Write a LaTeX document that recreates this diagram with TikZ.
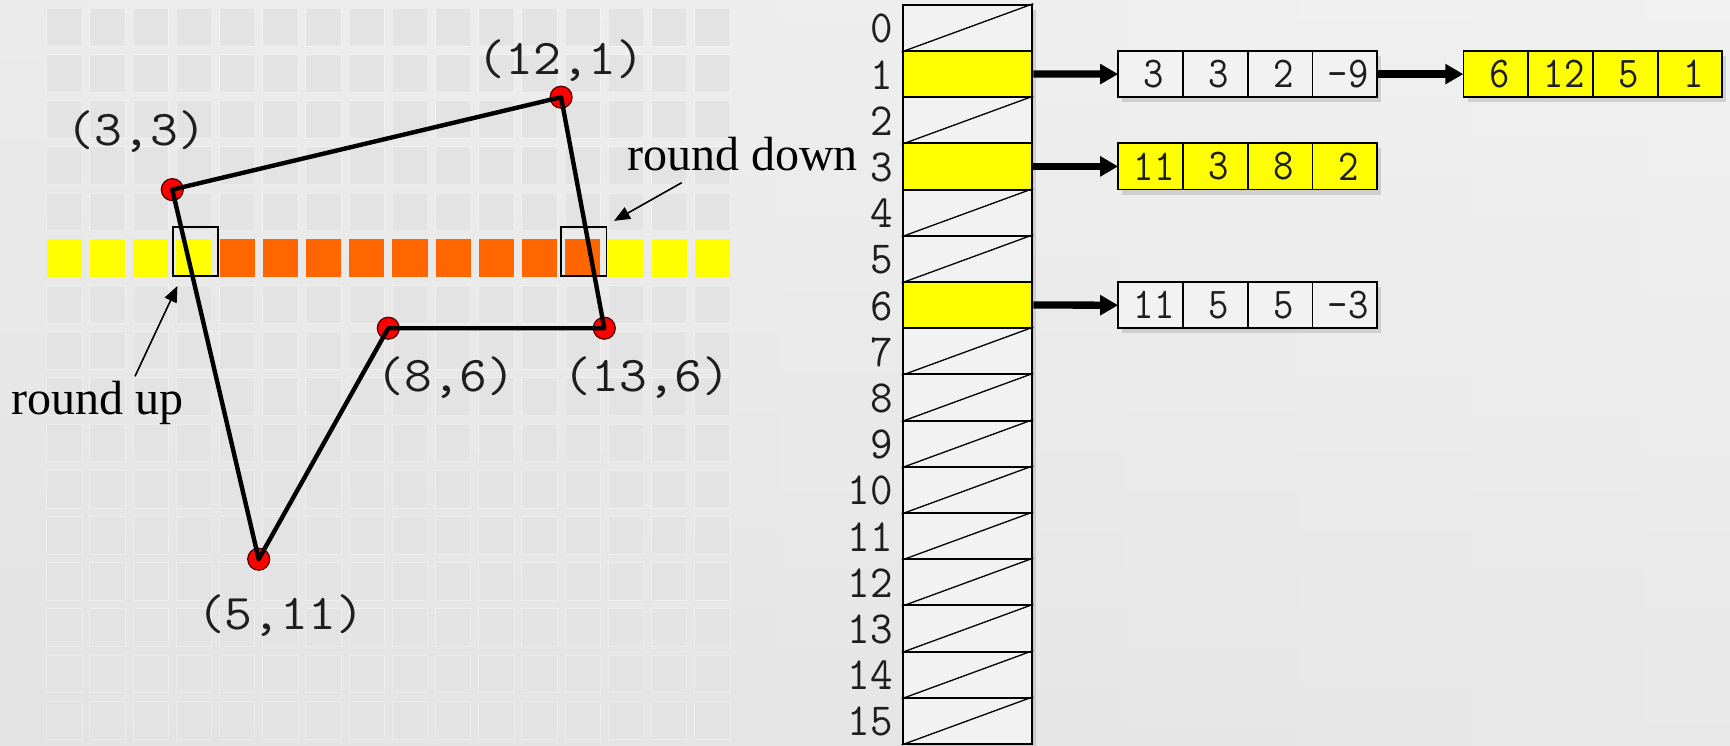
\documentclass[tikz,border=0pt]{standalone}
\usepackage{fontspec}
\setmainfont{Liberation Serif}
\newfontfamily\labelmono[FakeStretch=1.08]{Latin Modern Mono}
\newfontfamily\indexmono[FakeStretch=0.95]{Latin Modern Mono}
\newfontfamily\cellmono[FakeStretch=0.9]{Latin Modern Mono}
\usetikzlibrary{arrows.meta,shadows,calc}

\definecolor{bgL}{HTML}{E4E4E4}
\definecolor{bgM}{HTML}{F5F5F5}
\definecolor{bgR}{HTML}{EEEEEE}
\definecolor{bgLow}{HTML}{E2E2E2}
\definecolor{cellgrey}{HTML}{E3E3E3}
\definecolor{hot}{HTML}{FF6600}
\definecolor{hit}{HTML}{FFFF00}
\definecolor{ink}{HTML}{1E1E1E}
\definecolor{slotfill}{HTML}{F2F2F2}

\begin{document}
\begin{tikzpicture}[x=1pt,y=-1pt,
  gridcell/.style={fill=cellgrey,draw=white,draw opacity=0.35,line width=1pt},
  vertex/.style={circle,fill=red,draw=red!30!black,line width=1.2pt,minimum size=22pt,inner sep=0pt},
  polyline/.style={line width=4.4pt,line join=round,draw=black},
  ptlabel/.style={font=\labelmono\fontsize{50}{52}\selectfont,text=ink,inner sep=0pt,anchor=base},
  callout/.style={font=\fontsize{48}{52}\selectfont,text=black,inner sep=0pt,anchor=base west},
  probe/.style={draw=black,line width=1.8pt,minimum width=45.6pt,minimum height=48.7pt,inner sep=0pt},
  pointer/.style={line width=1.6pt,-{Triangle[length=16pt,width=13pt]}},
  slot/.style={draw=black,line width=2pt,fill=slotfill,minimum width=129.6pt,minimum height=46.2pt,inner sep=0pt},
  idx/.style={font=\indexmono\fontsize{46}{48}\selectfont,text=ink,inner sep=0pt,anchor=east},
  lcell/.style={draw=black,line width=1.8pt,minimum width=64.7pt,minimum height=46.2pt,inner sep=0pt,
    font=\cellmono\fontsize{44}{46}\selectfont,text=ink,execute at begin node={\hspace*{7pt}}},
  listframe/.style={fill=#1,minimum width=258.8pt,minimum height=46.2pt,inner sep=0pt,
    drop shadow={shadow xshift=4pt,shadow yshift=-5pt,opacity=0.3,fill=black!45}},
  chainarrow/.style={draw=black,line width=7.3pt,-{Triangle[length=18pt,width=19.4pt]}},
]
\useasboundingbox (0,0) rectangle (1730,745);
\shade[left color=bgL,middle color=bgM,right color=bgR] (0,0) rectangle (1730,745);
\shade[top color=bgM,bottom color=bgLow,opacity=0.45] (0,0) rectangle (1730,745);

% pixel grid
\foreach \c in {0,...,15}{
  \foreach \r in {0,1,2,3,4,6,7,8,9,10,11,12,13,14,15}{
    \filldraw[gridcell] ({46.7+43.2*\c},{8.3+46.2*\r}) rectangle ++(35.3,37.7);
  }
}
% scan line: outside cells yellow, inside cells orange
\foreach \c in {0,1,2,3,13,14,15}{
  \fill[hit] ({46.7+43.2*\c},239.3) rectangle ++(35.3,37.7);
}
\foreach \c in {4,...,12}{
  \fill[hot] ({46.7+43.2*\c},239.3) rectangle ++(35.3,37.7);
}

% crossing cells
\node[probe] (boxL) at (195.5,251.7) {};
\node[probe] (boxR) at (583.7,251.7) {};

% polygon vertices
\node[vertex] (p33)  at (172.3,189.6) {};
\node[vertex] (p121) at (561.1,97.2) {};
\node[vertex] (p136) at (604.3,328.2) {};
\node[vertex] (p86)  at (388.3,328.2) {};
\node[vertex] (p511) at (258.7,559.2) {};
\draw[polyline] (p33.center) -- (p121.center) -- (p136.center) -- (p86.center) -- (p511.center) -- cycle;

% vertex labels
\node[ptlabel] (l33)  at (136.5,145) {(3,3)};
\node[ptlabel] (l121) at (561,74) {(12,1)};
\node[ptlabel] (l86)  at (446,391.7) {(8,6)};
\node[ptlabel] (l136) at (647,391.7) {(13,6)};
\node[ptlabel] (l511) at (280.5,629) {(5,11)};

% rounding notes
\node[callout] (rdown) at (627,170.7) {round down};
\node[callout] (rup) at (11,414.3) {round up};
\coordinate (rdtail) at ($(rdown.base west)+(54.7,12)$);
\coordinate (rdtip) at ($(boxR.north east)+(6.6,-5.6)$);
\coordinate (rutail) at ($(rup.base west)+(124,-38)$);
\coordinate (rutip) at ($(boxL.south west)+(5.6,9)$);
\draw[pointer] (rdtail) -- (rdtip);
\draw[pointer] (rutail) -- (rutip);

% edge table
\node[slot,draw=none,minimum height=739.2pt,
  drop shadow={shadow xshift=4pt,shadow yshift=-5pt,opacity=0.3,fill=black!45}] (col) at (967.5,374.3) {};
\foreach \i/\f in {0/slotfill,1/hit,2/slotfill,3/hit,4/slotfill,5/slotfill,6/hit,7/slotfill,
                   8/slotfill,9/slotfill,10/slotfill,11/slotfill,12/slotfill,13/slotfill,14/slotfill,15/slotfill}{
  \node[slot,fill=\f] (h\i) at (967.5,{27.8+46.2*\i}) {};
  \node[idx] (n\i) at (893,{28.8+46.2*\i}) {\i};
}
\foreach \i in {0,2,4,5,7,8,9,10,11,12,13,14,15}{
  \draw[line width=1.3pt] (h\i.south west) -- (h\i.north east);
}

% edge records
\node[listframe=slotfill] (La) at (1247.7,74.1) {};
\foreach \v [count=\k from 0] in {3,3,2,-9}{
  \node[lcell] (La\k) at ({1118.3+64.7*\k+32.35},74.1) {\v};
}
\node[listframe=hit] (Lb) at (1592.9,74.1) {};
\foreach \v [count=\k from 0] in {6,12,5,1}{
  \node[lcell] (Lb\k) at ({1463.5+64.7*\k+32.35},74.1) {\v};
}
\node[listframe=hit] (Lc) at (1247.7,166.4) {};
\foreach \v [count=\k from 0] in {11,3,8,2}{
  \node[lcell] (Lc\k) at ({1118.3+64.7*\k+32.35},166.4) {\v};
}
\node[listframe=slotfill] (Ld) at (1247.7,305.2) {};
\foreach \v [count=\k from 0] in {11,5,5,-3}{
  \node[lcell] (Ld\k) at ({1118.3+64.7*\k+32.35},305.2) {\v};
}

% links
\draw[chainarrow] (h1.east) -- (La.west);
\draw[chainarrow] (La.east) -- (Lb.west);
\draw[chainarrow] (h3.east) -- (Lc.west);
\draw[chainarrow] (h6.east) -- (Ld.west);
\end{tikzpicture}
\end{document}
